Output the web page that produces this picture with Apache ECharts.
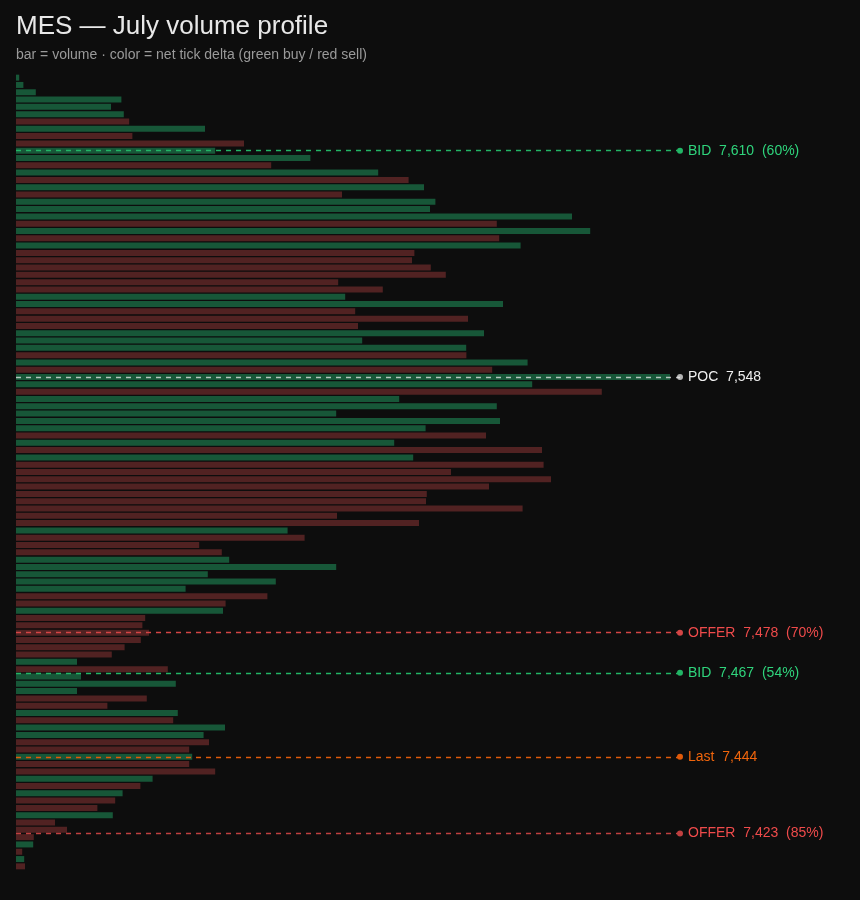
<!DOCTYPE html>
<html>
<head>
<meta charset="utf-8">
<title>MES volume profile</title>
<script src="https://cdn.jsdelivr.net/npm/echarts@6/dist/echarts.min.js"></script>
<style>
  html, body { margin: 0; padding: 0; background: #0d0d0d; }
  #chart { width: 860px; height: 900px; }
</style>
</head>
<body>
<div id="chart"></div>
<script>
// price bins, 2 points each, from the high (top) to the low (bottom)
var highPrice = 7630;
var lowPrice = 7414;
var binSize = 2;
var prices = [];
for (var p = highPrice; p >= lowPrice; p -= binSize) {
    prices.push(p);
}

// volume per bin, top to bottom
var volumes = [
    16, 37, 99, 527, 475, 539, 566, 945, 582, 1140,
    996, 1472, 1276, 1811, 1963, 2040, 1630, 2097, 2070, 2780,
    2404, 2871, 2416, 2523, 1992, 1980, 2074, 2149, 1611, 1834,
    1646, 2435, 1696, 2260, 1710, 2340, 1731, 2251, 2252, 2558,
    2381, 3270, 2581, 2929, 1916, 2404, 1601, 2420, 2048, 2350,
    1891, 2630, 1986, 2638, 2175, 2675, 2365, 2054, 2050, 2533,
    1605, 2015, 1358, 1443, 916, 1029, 1066, 1601, 959, 1299,
    848, 1257, 1048, 1035, 646, 632, 665, 624, 543, 479,
    305, 759, 325, 799, 305, 654, 457, 809, 786, 1045,
    938, 965, 866, 881, 866, 996, 683, 622, 533, 496,
    407, 484, 195, 255, 89, 86, 31, 41, 45
];

// net tick delta sign per bin: 1 = buy (green), -1 = sell (red)
var deltas = [
    1, 1, 1, 1, 1, 1, -1, 1, -1, -1,
    1, 1, -1, 1, -1, 1, -1, 1, 1, 1,
    -1, 1, -1, 1, -1, -1, -1, -1, -1, -1,
    1, 1, -1, -1, -1, 1, 1, 1, -1, 1,
    -1, 1, 1, -1, 1, 1, 1, 1, 1, -1,
    1, -1, 1, -1, -1, -1, -1, -1, -1, -1,
    -1, -1, 1, -1, -1, -1, 1, 1, 1, 1,
    1, -1, -1, 1, -1, -1, -1, -1, -1, -1,
    1, -1, 1, 1, 1, -1, -1, 1, -1, 1,
    1, -1, -1, 1, -1, -1, 1, -1, 1, -1,
    -1, 1, -1, -1, -1, 1, -1, 1, -1
];

// key levels drawn across the profile
var levelNames = ['BID', 'POC', 'OFFER', 'BID', 'Last', 'OFFER'];
var levelPrices = [7610, 7548, 7478, 7467, 7444, 7423];
var levelPcts = ['60%', null, '70%', '54%', null, '85%'];
var levelColors = ['#2fd47c', '#f0f0f0', '#ef4b4b', '#2fd47c', '#f0650c', '#ef4b4b'];
var levelLineColors = ['#22b566', 'rgba(235,235,235,0.75)', '#d44545', '#22b566', '#e05a0a', '#c04040'];

var GREEN = '#175738';
var RED = '#512222';

var myChart = echarts.init(document.getElementById('chart'));

function fmt(n) {
    return n.toLocaleString('en-US');
}

var lineData = [];
for (var i = 0; i < levelPrices.length; i++) {
    var txt = levelNames[i] + '  ' + fmt(levelPrices[i]);
    if (levelPcts[i]) txt += '  (' + levelPcts[i] + ')';
    lineData.push({
        yAxis: levelPrices[i],
        lineStyle: { color: levelLineColors[i] },
        itemStyle: { color: levelColors[i] },
        label: { color: levelColors[i], formatter: txt }
    });
}

var font = '"Liberation Sans", Arial, sans-serif';

var option = {
    backgroundColor: '#0d0d0d',
    animation: false,
    title: {
        text: 'MES — July volume profile',
        subtext: 'bar = volume · color = net tick delta (green buy / red sell)',
        left: 11,
        top: 9,
        itemGap: 8,
        textStyle: { color: '#e8e8e8', fontSize: 26, fontWeight: 'normal', fontFamily: font },
        subtextStyle: { color: '#9a9a9a', fontSize: 14, fontFamily: font }
    },
    grid: { left: 16, right: 180, top: 74, bottom: 30 },
    xAxis: {
        type: 'value',
        min: 0,
        max: 3320,
        show: false
    },
    yAxis: [{
        type: 'category',
        data: prices,
        inverse: true,
        show: false
    }, {
        type: 'value',
        min: lowPrice - binSize / 2,
        max: highPrice + binSize / 2,
        show: false
    }],
    series: [{
        type: 'bar',
        yAxisIndex: 0,
        data: volumes,
        barWidth: 6,
        silent: true,
        itemStyle: {
            color: function (params) {
                return deltas[params.dataIndex] > 0 ? GREEN : RED;
            }
        }
    }, {
        type: 'line',
        yAxisIndex: 1,
        data: [],
        silent: true,
        markLine: {
            silent: true,
            symbol: ['none', 'circle'],
            symbolSize: 6,
            lineStyle: { type: [5, 5], width: 1.3 },
            label: {
                position: 'end',
                distance: 8,
                fontSize: 14,
                fontFamily: font
            },
            data: lineData
        }
    }]
};

myChart.setOption(option);
window.addEventListener('resize', function () {
    myChart.resize();
});
</script>
</body>
</html>
